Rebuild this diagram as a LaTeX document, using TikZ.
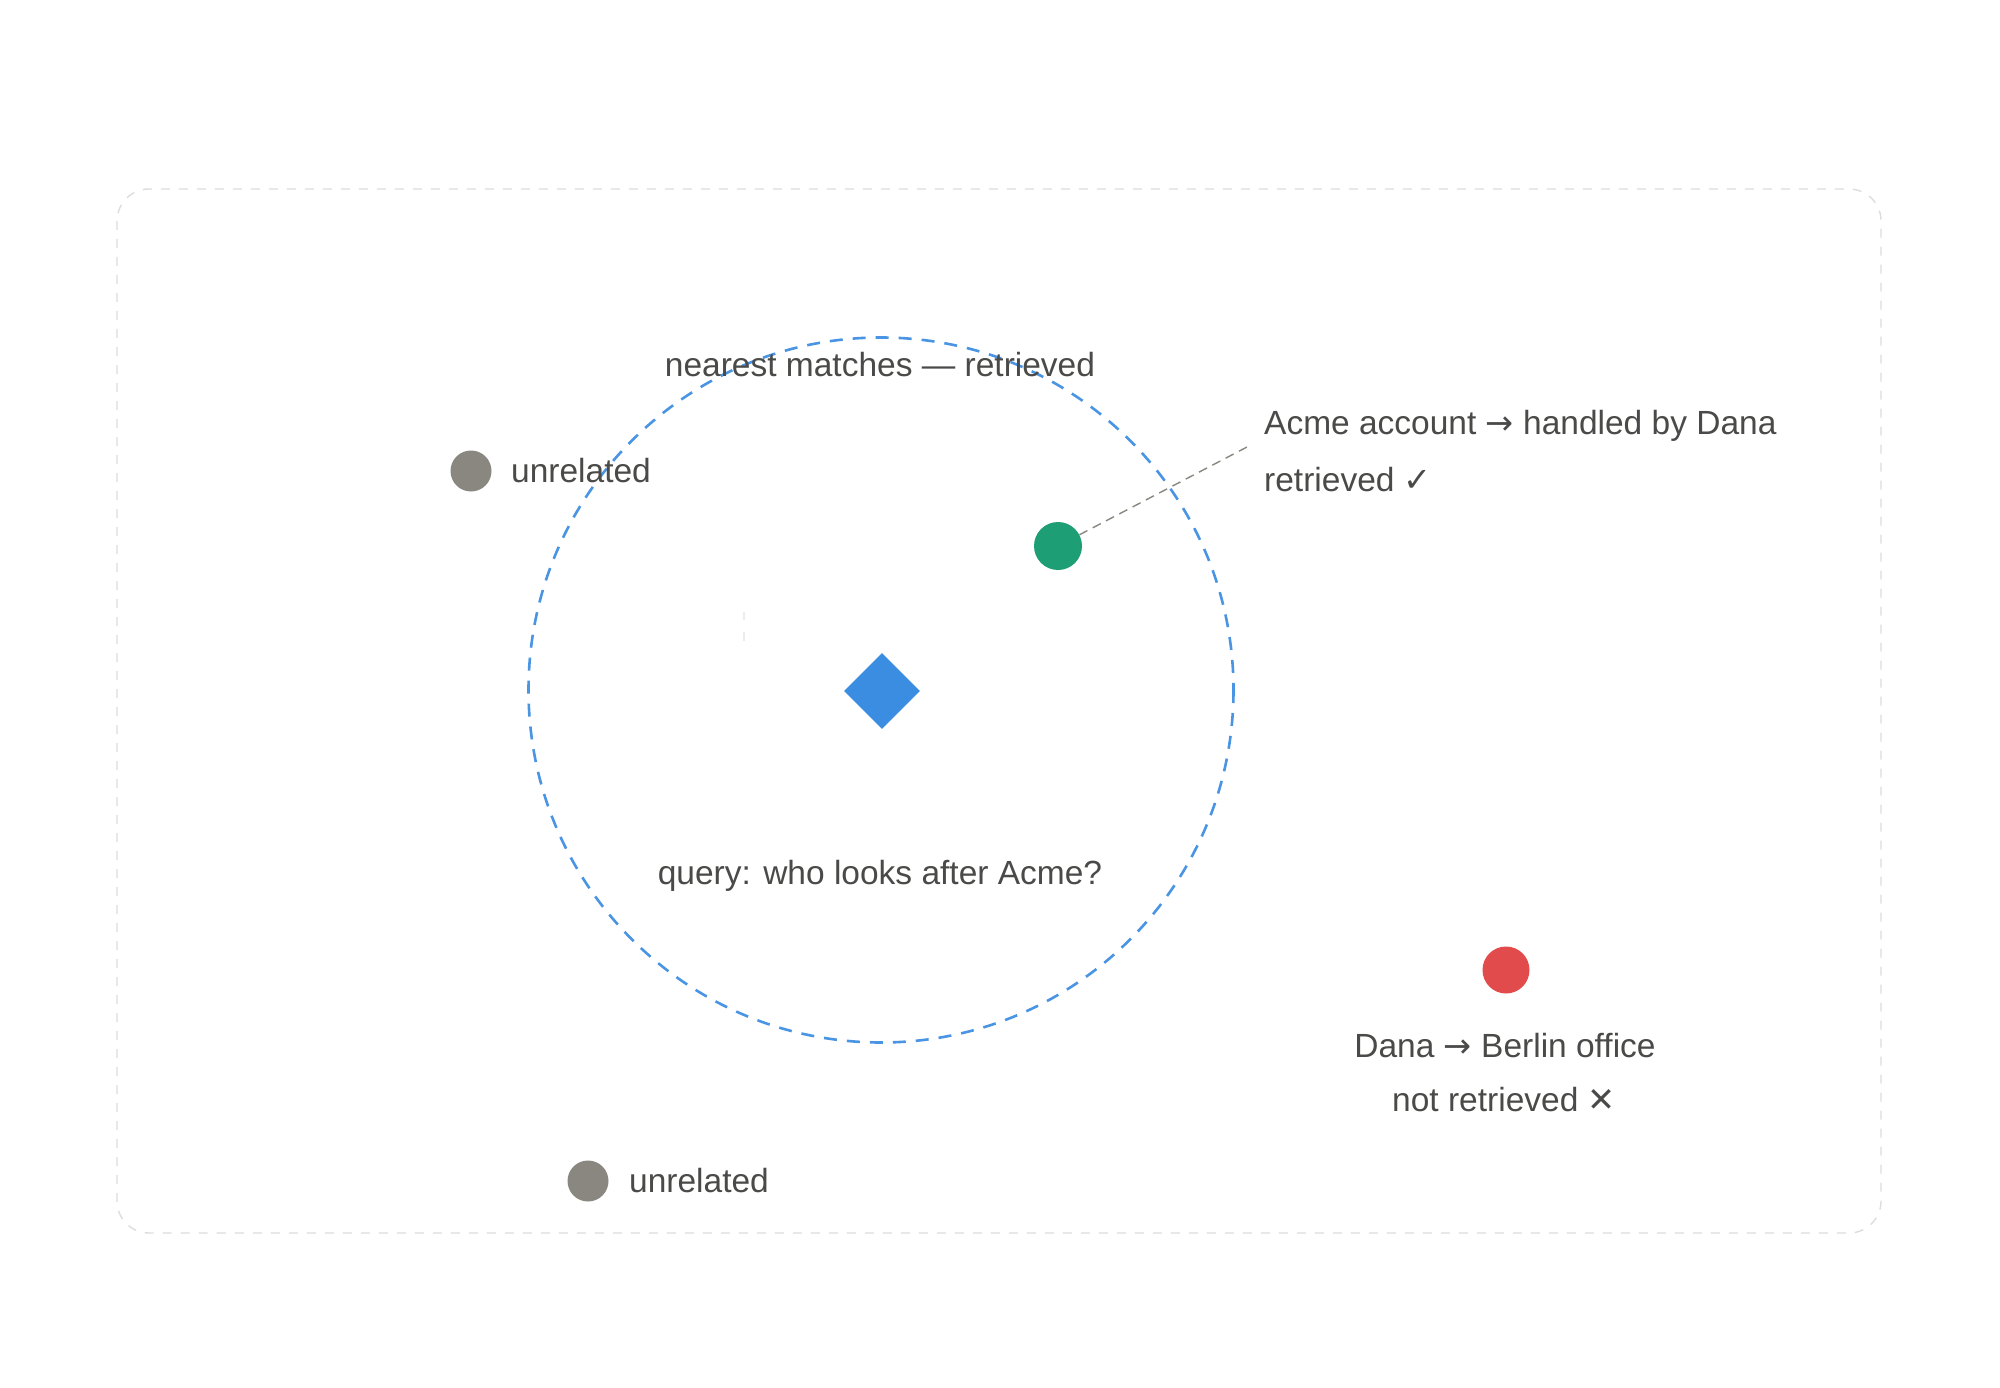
\documentclass[tikz,border=0pt]{standalone}
\usepackage{fontspec}
\setmainfont{Liberation Sans}
\newfontfamily\symfont{DejaVu Sans}
\usetikzlibrary{shapes.geometric}
\definecolor{txt}{HTML}{4A4A48}
\definecolor{qblue}{HTML}{3A8DE0}
\definecolor{ringblue}{HTML}{4A95E3}
\definecolor{okgreen}{HTML}{1D9E74}
\definecolor{badred}{HTML}{E24B4B}
\definecolor{dotgray}{HTML}{8A8780}
\definecolor{framegray}{HTML}{DDDDDD}
\tikzset{
  lbl/.style={text=txt, font=\fontsize{33.5}{40}\selectfont, inner sep=0pt},
  dotnode/.style={circle, inner sep=0pt, minimum size=#1},
  frame/.style={draw=framegray, line width=1.4pt, dash pattern=on 9pt off 9pt, rounded corners=32pt},
  ring/.style={draw=ringblue, line width=2.6pt, dash pattern=on 13pt off 10pt},
  leader/.style={draw=dotgray, line width=1.4pt, dash pattern=on 9pt off 6pt},
}
\begin{document}
\begin{tikzpicture}[x=1pt,y=-1pt]
\useasboundingbox[fill=white] (0,0) rectangle (2000,1388);
\draw[frame] (117,189) rectangle (1881,1233);
\draw[ring] (881,690) circle (352.5);
% faint ticks
\draw[gray!15, line width=1.5pt] (744,612) -- (744,620) (744,632) -- (744,641);
\node[diamond, fill=qblue, inner sep=0pt, minimum width=76pt, minimum height=76pt] (q) at (882,691) {};
\node[lbl] (ringlbl) at (880,365) {nearest matches — retrieved};
\node[lbl] (qlbl) at (880,876) {query: who looks after Acme?};
\node[dotnode=48pt, fill=okgreen] (acme) at (1058,546) {};
\coordinate (leadend) at (1247,447);
\draw[leader] (acme) -- (leadend);
\node[lbl, anchor=west] (acmelbl1) at (1264,426) {Acme account {\symfont →} handled by Dana};
\node[lbl, anchor=west] (acmelbl2) at (1264,480) {retrieved {\symfont ✓}};
\node[dotnode=47pt, fill=badred] (berlin) at (1506,970) {};
\node[lbl] (berlinlbl1) at (1505,1046) {Dana {\symfont →} Berlin office};
\node[lbl] (berlinlbl2) at (1504,1100) {not retrieved {\symfont ✕}};
\node[dotnode=41pt, fill=dotgray] (u1) at (471,471) {};
\node[lbl, anchor=west] (u1lbl) at (511,471) {unrelated};
\node[dotnode=41pt, fill=dotgray] (u2) at (588,1181) {};
\node[lbl, anchor=west] (u2lbl) at (629,1181) {unrelated};
\end{tikzpicture}
\end{document}
